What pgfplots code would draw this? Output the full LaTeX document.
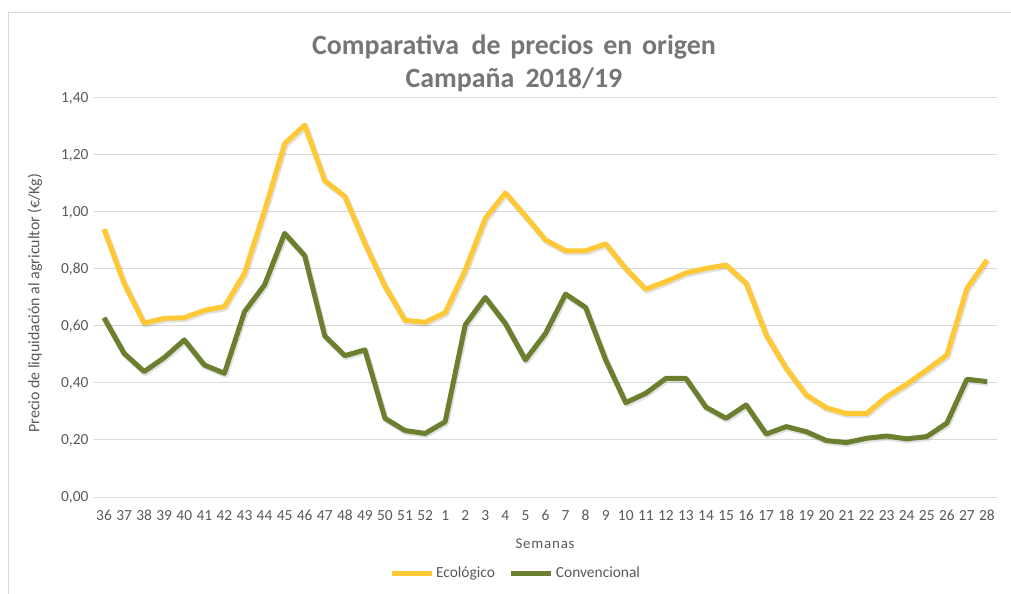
\documentclass[border=0pt]{standalone}
\usepackage{pgfplots}
\pgfplotsset{compat=1.18}
\usepackage{pgfplotstable}
\usepackage{fontspec}
\setmainfont{Carlito}
\definecolor{eco}{HTML}{FFC936}
\definecolor{conv}{HTML}{6B7F2F}
\definecolor{txt}{HTML}{595959}
\definecolor{ttl}{HTML}{767676}
\definecolor{grd}{HTML}{D9D9D9}
\pgfplotstableread{
x eco conv
0 0.940 0.629
1 0.750 0.504
2 0.610 0.440
3 0.627 0.489
4 0.629 0.551
5 0.655 0.463
6 0.668 0.434
7 0.785 0.650
8 1.005 0.744
9 1.240 0.925
10 1.305 0.847
11 1.110 0.565
12 1.055 0.496
13 0.890 0.516
14 0.740 0.276
15 0.620 0.233
16 0.613 0.223
17 0.647 0.264
18 0.796 0.604
19 0.978 0.700
20 1.067 0.609
21 0.986 0.481
22 0.902 0.574
23 0.864 0.712
24 0.864 0.665
25 0.888 0.481
26 0.802 0.331
27 0.729 0.364
28 0.756 0.416
29 0.786 0.416
30 0.802 0.315
31 0.814 0.276
32 0.750 0.323
33 0.568 0.221
34 0.451 0.247
35 0.358 0.229
36 0.313 0.198
37 0.293 0.191
38 0.293 0.206
39 0.352 0.214
40 0.396 0.204
41 0.446 0.212
42 0.498 0.259
43 0.732 0.413
44 0.832 0.405
}\data
\begin{document}
\begin{tikzpicture}
\useasboundingbox (0,0) rectangle (1011bp,594bp);
\draw[grd, line width=1bp] (8bp,0) -- (8bp,581bp) -- (1011bp,581bp);
\node[anchor=base, text=ttl, font=\fontsize{28}{32}\selectfont\bfseries] at (514bp,539bp) {Comparativa\hspace{0.45em}de\hspace{0.35em}precios\hspace{0.35em}en\hspace{0.35em}origen};
\node[anchor=base, text=ttl, font=\fontsize{28}{32}\selectfont\bfseries] at (514bp,506bp) {Campaña\hspace{0.4em}2018/19};
\begin{axis}[
  at={(94bp,97bp)}, anchor=south west,
  scale only axis, width=903bp, height=399bp,
  xmin=-0.5, xmax=44.5, ymin=0, ymax=1.4,
  axis line style={draw=none},
  ymajorgrids, grid style={grd, line width=1bp},
  ytick={0,0.2,...,1.4},
  xtick={0,...,44},
  xticklabels={36,37,38,39,40,41,42,43,44,45,46,47,48,49,50,51,52,1,2,3,4,5,6,7,8,9,10,11,12,13,14,15,16,17,18,19,20,21,22,23,24,25,26,27,28},
  major tick length=0,
  tick label style={text=txt, font=\fontsize{15.5}{17}\selectfont},
  yticklabel style={xshift=-2bp},
  xticklabel style={yshift=-9bp, text height=11bp, text depth=1bp},
  /pgf/number format/.cd, fixed, fixed zerofill, precision=2, use comma, assume math mode=true,
  /pgfplots/.cd,
  xlabel={S\kern0.8bp e\kern0.8bp m\kern0.8bp a\kern0.8bp n\kern0.8bp a\kern0.8bp s},
  xlabel style={at={(rel axis cs:0.4995,-0.118)}, anchor=center, text=txt, font=\fontsize{15}{17}\selectfont},
  ylabel={Precio de liquidación al agricultor (€/Kg)},
  ylabel style={at={(rel axis cs:-0.0653,0.486)}, anchor=center, text=txt, font=\fontsize{16}{18}\selectfont},
  legend columns=2,
  legend style={at={(rel axis cs:0.4668,-0.1905)}, anchor=center, draw=none, fill=none, font=\fontsize{15.5}{17}\selectfont, text=txt, /tikz/every even column/.append style={column sep=12bp}},
  legend image code/.code={\draw[#1] (0bp,0bp) -- (40bp,0bp);},
]
\addplot[black, opacity=0.12, line width=6bp, line join=round, forget plot, /tikz/transform canvas={xshift=1bp,yshift=-1.5bp}] table[x=x,y=eco]{\data};
\addplot[black, opacity=0.12, line width=6bp, line join=round, forget plot, /tikz/transform canvas={xshift=1bp,yshift=-1.5bp}] table[x=x,y=conv]{\data};
\addplot[eco, line width=5bp, line join=round] table[x=x,y=eco]{\data};
\addlegendentry{Ecológico}
\addplot[conv, line width=5bp, line join=round] table[x=x,y=conv]{\data};
\addlegendentry{Convencional}
\end{axis}
\end{tikzpicture}
\end{document}
